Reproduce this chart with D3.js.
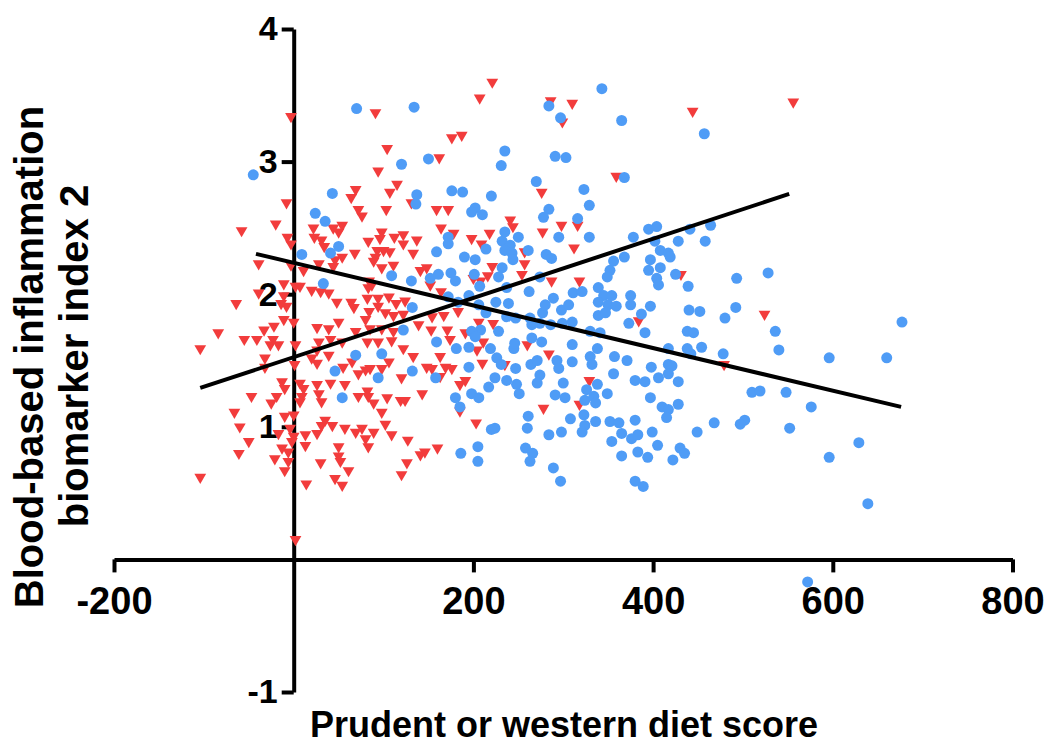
<!DOCTYPE html>
<meta charset="utf-8">
<script src="https://d3js.org/d3.v7.min.js"></script>
<style>
  body { margin: 0; background: #fff; }
  text { font-family: 'Liberation Sans', Arial, sans-serif; font-weight: bold; fill: #000; }
</style>
<body>
<div id="my_dataviz"></div>
<script>

// tick values
var xTicks = [-200, 200, 400, 600, 800];
var yTicks = [-1, 1, 2, 3, 4];

// red triangles [score, index]
var triPts = [
  [-3,3.34],[91,3.37],[104,3.10],[94,2.93],[115,2.83],[69,2.79],[64,2.73],[107,2.77],[-8,2.69],[72,2.64],
  [76,2.59],[103,2.64],[131,2.69],[-58,2.48],[-20,2.53],[22,2.50],[44,2.50],[54,2.52],[50,2.47],[23,2.43],
  [31,2.41],[34,2.36],[-7,2.43],[-3,2.38],[83,2.40],[98,2.47],[96,2.42],[112,2.43],[122,2.45],[122,2.38],
  [137,2.41],[68,2.31],[93,2.33],[100,2.33],[107,2.32],[91,2.28],[89,2.25],[54,2.28],[46,2.26],[44,2.21],
  [133,2.31],[98,2.20],[111,2.22],[141,2.18],[28,2.23],[-3,2.22],[11,2.18],[-39,2.23],[84,2.10],[83,2.05],
  [87,2.07],[2,2.06],[7,2.06],[-11,2.08],[20,2.03],[30,2.02],[39,2.01],[-39,2.01],[-11,1.99],[-64,1.93],
  [-14,1.93],[-8,1.91],[48,1.94],[64,1.94],[67,1.90],[82,1.97],[94,1.97],[106,1.98],[114,1.93],[124,1.95],
  [94,1.91],[102,1.86],[122,1.85],[111,1.84],[84,1.87],[80,1.81],[50,1.79],[-11,1.81],[0,1.79],[-22,1.76],
  [-33,1.73],[-84,1.71],[26,1.75],[39,1.74],[69,1.72],[85,1.74],[98,1.74],[111,1.72],[139,1.77],
  [221,3.60],[207,3.48],[286,3.46],[310,3.44],[299,3.30],[176,3.18],[187,3.20],[162,3.03],[359,2.89],[276,2.77],
  [159,2.64],[172,2.64],[164,2.50],[178,2.46],[198,2.42],[209,2.38],[218,2.46],[241,2.56],[244,2.51],[277,2.47],
  [298,2.52],[316,2.52],[312,2.35],[257,2.32],[257,2.23],[221,2.21],[216,2.14],[254,2.15],[200,2.12],[208,2.10],
  [148,2.20],[152,2.07],[164,2.02],[287,2.10],[318,2.10],[183,1.87],[167,1.84],[154,1.83],[206,1.79],[222,1.78],
  [153,1.73],[171,1.73],[191,1.71],[384,1.80],
  [444,3.38],[556,3.45],[431,2.15],[524,1.85],
  [-104,1.59],[-55,1.66],[-41,1.66],[-26,1.62],[-23,1.66],[-17,1.62],[2,1.62],[26,1.58],[28,1.64],[41,1.66],
  [54,1.64],[82,1.64],[94,1.64],[109,1.65],[122,1.59],[133,1.53],[-32,1.52],[-32,1.45],[1,1.47],[20,1.52],
  [26,1.48],[39,1.54],[55,1.45],[65,1.49],[72,1.40],[80,1.43],[85,1.44],[98,1.44],[106,1.49],[120,1.37],
  [-13,1.34],[-10,1.29],[7,1.33],[11,1.29],[9,1.23],[7,1.19],[26,1.32],[28,1.25],[31,1.19],[41,1.33],
  [57,1.32],[72,1.23],[82,1.27],[83,1.23],[89,1.18],[104,1.22],[98,1.11],[119,1.20],[124,1.20],[143,1.25],
  [-47,1.23],[-19,1.23],[-25,1.18],[-66,1.11],[-10,1.08],[0,1.09],[-60,1.00],[-17,0.95],[-4,0.99],[0,0.93],
  [-2,0.89],[13,0.94],[13,0.86],[26,0.95],[31,1.01],[35,1.05],[43,1.01],[57,0.99],[69,0.96],[76,0.99],
  [80,0.91],[83,0.85],[89,0.96],[102,1.02],[109,0.94],[127,0.90],[-50,0.89],[-61,0.80],[-13,0.84],[-21,0.76],
  [-6,0.81],[-6,0.74],[-10,0.67],[50,0.85],[50,0.78],[52,0.74],[30,0.73],[61,0.67],[46,0.61],[54,0.56],
  [14,0.57],[126,0.73],[120,0.64],[-104,0.62],[2,0.15],[141,0.79],
  [174,1.66],[163,1.53],[148,1.45],[154,1.44],[169,1.45],[176,1.44],[163,1.38],[185,1.32],[191,1.35],[204,1.58],
  [210,1.48],[211,1.64],[235,1.47],[260,1.62],[284,1.55],[185,1.12],[203,1.03],[278,1.14],[160,0.84],[329,1.35],
  [318,1.17],[146,0.81],[479,1.47]
];

// blue circles [score, index]
var dotPts = [
  [70,3.40],[134,3.41],[120,2.98],[-45,2.90],[150,3.02],[43,2.76],[137,2.75],[136,2.68],[24,2.61],[35,2.55],
  [50,2.36],[41,2.31],[9,2.30],[33,2.08],[109,2.14],[131,2.10],[132,1.90],[122,1.73],
  [343,3.55],[284,3.42],[297,3.33],[365,3.31],[235,3.08],[231,2.97],[291,3.04],[303,3.03],[368,2.88],[270,2.85],
  [176,2.78],[188,2.77],[220,2.74],[323,2.79],[329,2.67],[284,2.64],[278,2.58],[202,2.65],[198,2.62],[210,2.60],
  [316,2.57],[295,2.43],[329,2.43],[250,2.43],[235,2.47],[172,2.43],[172,2.38],[159,2.32],[214,2.34],[232,2.40],
  [241,2.37],[235,2.33],[243,2.31],[261,2.33],[244,2.26],[190,2.28],[202,2.26],[281,2.30],[287,2.27],[368,2.28],
  [378,2.43],[395,2.49],[404,2.51],[402,2.40],[408,2.33],[356,2.25],[352,2.18],[349,2.13],[397,2.26],[395,2.18],
  [408,2.20],[404,2.12],[406,2.07],[161,2.15],[175,2.16],[180,2.10],[201,2.15],[207,2.06],[232,2.20],[228,2.13],
  [237,2.05],[274,2.13],[152,2.12],[172,1.98],[183,1.94],[195,1.99],[206,1.92],[214,1.86],[225,1.94],[239,1.93],
  [262,2.02],[247,1.82],[263,1.82],[277,1.86],[280,1.92],[289,1.97],[298,1.88],[306,1.92],[311,2.01],[321,2.02],
  [339,2.05],[345,1.99],[354,1.99],[339,1.94],[350,1.92],[359,1.91],[339,1.84],[347,1.86],[375,1.99],[375,1.92],
  [387,1.85],[397,1.91],[373,1.78],[310,1.79],[299,1.78],[286,1.77],[274,1.78],[265,1.77],[228,1.72],[208,1.73],
  [198,1.72],[237,1.83],[330,1.72],[341,1.71],[391,1.71],
  [457,3.21],[441,2.49],[464,2.52],[428,2.40],[458,2.40],[417,2.31],[419,2.28],[425,2.15],[439,2.06],[493,2.12],
  [528,2.16],[440,1.88],[452,1.87],[492,1.90],[480,1.82],[438,1.72],[445,1.71],[536,1.72],[677,1.79],
  [69,1.54],[98,1.55],[46,1.42],[94,1.37],[132,1.42],[54,1.22],
  [159,1.64],[181,1.59],[195,1.60],[202,1.68],[219,1.59],[226,1.52],[231,1.47],[195,1.45],[158,1.37],[247,1.44],
  [245,1.59],[246,1.63],[265,1.67],[276,1.64],[264,1.47],[271,1.50],[274,1.39],[271,1.33],[224,1.37],[217,1.30],
  [237,1.35],[248,1.32],[251,1.25],[198,1.25],[206,1.22],[180,1.22],[185,1.15],[261,1.08],[260,0.99],[220,0.98],
  [224,0.99],[205,0.85],[186,0.80],[205,0.74],[258,0.84],[266,0.80],[263,0.74],[284,0.94],[298,0.96],[289,0.69],
  [297,0.59],[293,1.50],[295,1.44],[310,1.62],[310,1.49],[300,1.33],[291,1.24],[302,1.22],[308,1.06],[330,1.53],
  [332,1.47],[338,1.59],[338,1.32],[326,1.28],[324,1.20],[334,1.23],[336,1.18],[349,1.25],[323,1.09],[324,1.01],
  [321,0.96],[336,1.04],[352,1.04],[362,1.03],[354,0.89],[365,0.95],[365,0.78],[356,1.40],[357,1.53],[371,1.50],
  [380,1.35],[391,1.34],[397,1.22],[380,1.05],[376,0.91],[383,0.94],[383,0.81],[394,0.77],[399,0.96],[405,0.86],
  [380,0.59],[389,0.55],[398,1.45],[406,1.37],[410,1.15],
  [417,1.59],[438,1.59],[442,1.55],[454,1.60],[478,1.55],[540,1.58],[596,1.52],[660,1.52],[417,1.47],[421,1.46],
  [417,1.40],[428,1.34],[510,1.26],[519,1.27],[548,1.26],[576,1.15],[428,1.17],[417,1.13],[415,1.07],[468,1.03],
  [502,1.05],[497,1.02],[552,0.99],[449,0.96],[430,0.84],[435,0.80],[422,0.75],[629,0.88],[596,0.77],[639,0.42],
  [572,-0.17]
];

// fitted lines, end points
var triFit = [[-104, 1.293], [551.5, 2.756]];
var dotFit = [[-42, 2.304], [676, 1.150]];

var width = 1050, height = 746;

var svg = d3.select("#my_dataviz")
  .append("svg")
    .attr("width", width)
    .attr("height", height);

var x = d3.scaleLinear().domain([-200, 800]).range([114, 1012.5]);
var y = d3.scaleLinear().domain([-1, 4]).range([692, 29]);

// plain hyphen for negatives, like the original
var fmt = function(d) { return String(d); };

// X axis crossing at y = 0
var xAxis = svg.append("g")
  .attr("transform", "translate(0," + y(0) + ")")
  .call(d3.axisBottom(x).tickValues(xTicks).tickSize(13).tickSizeOuter(0).tickPadding(15).tickFormat(fmt));
xAxis.selectAll("text").style("font-size", "38px");

// Y axis crossing at x = 0
var yAxis = svg.append("g")
  .attr("transform", "translate(" + x(0) + ",0)")
  .call(d3.axisLeft(y).tickValues(yTicks).tickSize(12).tickSizeOuter(0).tickPadding(4).tickFormat(fmt));
yAxis.selectAll("text").style("font-size", "34px");

svg.selectAll(".domain, .tick line")
  .attr("stroke", "#000")
  .attr("stroke-width", 4);

// points
var tri = d3.symbol().type(d3.symbolTriangle).size(60);
svg.append("g").selectAll("path")
  .data(triPts)
  .enter()
  .append("path")
    .attr("d", tri)
    .attr("transform", function(d) { return "translate(" + x(d[0]) + "," + y(d[1]) + ") rotate(180)"; })
    .attr("fill", "#f23c3c");

svg.append("g").selectAll("circle")
  .data(dotPts)
  .enter()
  .append("circle")
    .attr("cx", function(d) { return x(d[0]); })
    .attr("cy", function(d) { return y(d[1]); })
    .attr("r", 5.5)
    .attr("fill", "#4f9cf6");

// regression lines
var line = d3.line()
  .x(function(d) { return x(d[0]); })
  .y(function(d) { return y(d[1]); });

[triFit, dotFit].forEach(function(f) {
  svg.append("path")
    .attr("d", line(f))
    .attr("fill", "none")
    .attr("stroke", "#000")
    .attr("stroke-width", 4);
});

// axis titles
svg.append("text")
  .attr("x", 564)
  .attr("y", 737)
  .attr("text-anchor", "middle")
  .style("font-size", "36px")
  .text("Prudent or western diet score");

svg.append("text")
  .attr("transform", "translate(43,357) rotate(-90)")
  .attr("text-anchor", "middle")
  .style("font-size", "40px")
  .text("Blood-based inflammation");

svg.append("text")
  .attr("transform", "translate(88,356) rotate(-90)")
  .attr("text-anchor", "middle")
  .style("font-size", "40px")
  .text("biomarker index 2");

</script>
</body>
